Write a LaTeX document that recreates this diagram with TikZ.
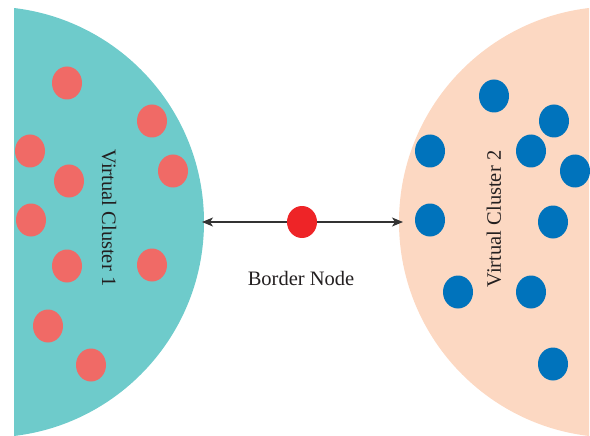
\documentclass[tikz,border=0pt]{standalone}
\usepackage{fontspec}
\setmainfont{Liberation Serif}
\usetikzlibrary{shapes.geometric,arrows.meta}
\definecolor{tealfill}{HTML}{6ECBCB}
\definecolor{peachfill}{HTML}{FCD8C2}
\definecolor{reddot}{HTML}{F06A66}
\definecolor{bluedot}{HTML}{0073BC}
\definecolor{bordercol}{HTML}{EE2427}
\definecolor{linkcol}{HTML}{333333}
\definecolor{txt}{HTML}{231F20}
\tikzset{
  dot/.style={ellipse, minimum width=30pt, minimum height=33pt, inner sep=0pt, draw=none},
  rdot/.style={dot, fill=reddot},
  bdot/.style={dot, fill=bluedot},
  label/.style={text=txt, font=\fontsize{20.5}{24}\selectfont, inner sep=0pt},
  link/.style={draw=linkcol, line width=1.2pt, -{Stealth[length=11pt,width=9pt,inset=3pt]}}
}
\begin{document}
\begin{tikzpicture}[x=1pt, y=-1pt]
\useasboundingbox (0,0) rectangle (590,436);
% left cluster: circle segment cut off at the left
\begin{scope}
  \clip (14,0) rectangle (590,436);
  \fill[tealfill] (-11.5,222) circle (215.5pt);
\end{scope}
% right cluster: mirrored segment
\begin{scope}
  \clip (0,0) rectangle (589,436);
  \fill[peachfill] (614.5,222) circle (215.5pt);
\end{scope}
% members of cluster 1
\node[rdot] (r1) at (67,83) {};
\node[rdot] (r2) at (152,121) {};
\node[rdot] (r3) at (30,151) {};
\node[rdot] (r4) at (69,181) {};
\node[rdot] (r5) at (173,171) {};
\node[rdot] (r6) at (31,220) {};
\node[rdot] (r7) at (67,266) {};
\node[rdot] (r8) at (152,265) {};
\node[rdot] (r9) at (48,326) {};
\node[rdot] (r10) at (91,365) {};
% members of cluster 2
\node[bdot] (b1) at (494,96) {};
\node[bdot] (b2) at (554,121) {};
\node[bdot] (b3) at (430,151) {};
\node[bdot] (b4) at (531,151) {};
\node[bdot] (b5) at (575,171) {};
\node[bdot] (b6) at (430,220) {};
\node[bdot] (b7) at (553,222) {};
\node[bdot] (b8) at (458,292) {};
\node[bdot] (b9) at (531,292) {};
\node[bdot] (b10) at (553,364) {};
% cluster labels
\node[label, rotate=-90] (lab1) at (109,218) {Virtual Cluster 1};
\node[label, rotate=90] (lab2) at (494,219) {Virtual Cluster 2};
% border node and its links to both clusters
\coordinate (edge1) at (202,222);
\coordinate (edge2) at (403,222);
\node[dot, minimum width=30pt, minimum height=32pt, fill=bordercol] (border) at (302,222) {};
\draw[link] (border) -- (edge1);
\draw[link] (border) -- (edge2);
\node[label, anchor=base] (blabel) at (301,285) {Border Node};
\end{tikzpicture}
\end{document}
